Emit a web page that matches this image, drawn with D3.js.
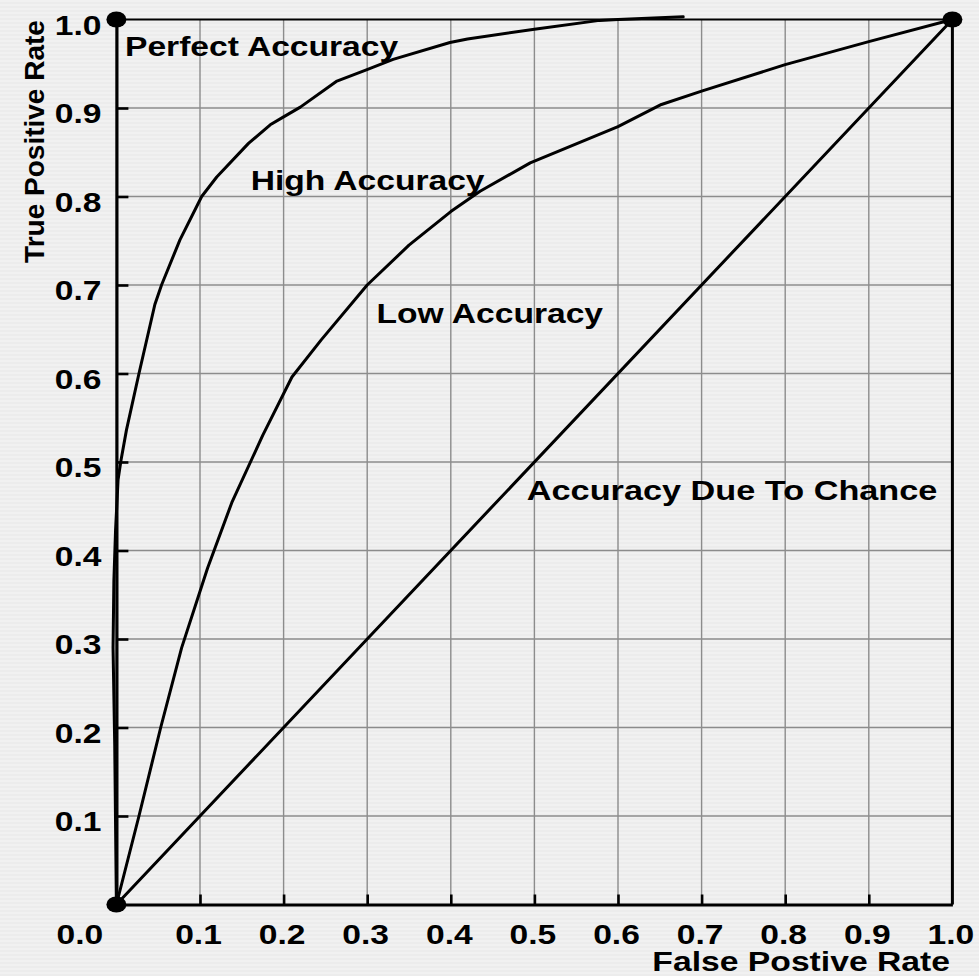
<!DOCTYPE html>
<html>
<head>
<meta charset="utf-8">
<script src="https://cdn.jsdelivr.net/npm/d3@7"></script>
<style>
  html, body { margin: 0; padding: 0; background: #efefef; }
  svg { display: block; }
  text { font-family: "Liberation Sans", Arial, Helvetica, sans-serif; font-weight: bold; fill: #000; }
</style>
</head>
<body>
<svg id="chart" width="979" height="976"></svg>
<script>
// Axis ticks
const tickValues = [0, 0.1, 0.2, 0.3, 0.4, 0.5, 0.6, 0.7, 0.8, 0.9, 1.0];
const tickLabels = ["0.0", "0.1", "0.2", "0.3", "0.4", "0.5", "0.6", "0.7", "0.8", "0.9", "1.0"];

// High accuracy ROC curve
const highFpr = [0, -0.002, -0.004, -0.003, -0.001, 0.002, 0.0055, 0.012, 0.027, 0.046, 0.054, 0.076, 0.102, 0.12, 0.158, 0.184, 0.2, 0.22, 0.263, 0.299, 0.331, 0.399, 0.42, 0.5, 0.578, 0.6, 0.678];
const highTpr = [0, 0.18, 0.29, 0.366, 0.423, 0.48, 0.502, 0.536, 0.6, 0.678, 0.7, 0.751, 0.8, 0.822, 0.86, 0.881, 0.89, 0.901, 0.93, 0.943, 0.955, 0.974, 0.978, 0.989, 0.999, 1.0, 1.003];

// Low accuracy ROC curve
const lowFpr = [0, 0.027, 0.053, 0.078, 0.109, 0.138, 0.175, 0.21, 0.245, 0.3, 0.35, 0.4, 0.435, 0.495, 0.6, 0.652, 0.7, 0.8, 0.9, 1.0];
const lowTpr = [0, 0.1, 0.2, 0.29, 0.38, 0.454, 0.53, 0.596, 0.638, 0.7, 0.745, 0.783, 0.806, 0.838, 0.879, 0.904, 0.919, 0.949, 0.975, 1.0];

// Chance diagonal
const chanceFpr = [0, 1];
const chanceTpr = [0, 1];

// Perfect classifier corners
const perfectFpr = [0, 0, 1];
const perfectTpr = [0, 1, 1];

// Curve annotations
const labelTexts = ["Perfect Accuracy", "High Accuracy", "Low Accuracy", "Accuracy Due To Chance"];
const labelFpr = [0.0103, 0.1606, 0.3112, 0.4909];
const labelTpr = [0.9588, 0.8073, 0.6574, 0.457];

const svg = d3.select("#chart");
const W = 979, H = 976;
const stretch = 1.2;

// background with faint horizontal scan texture
const defs = svg.append("defs");
const pat = defs.append("pattern").attr("id", "scan").attr("width", 8).attr("height", 4)
  .attr("patternUnits", "userSpaceOnUse");
pat.append("rect").attr("width", 8).attr("height", 4).attr("fill", "#f1f1f1");
pat.append("rect").attr("y", 2).attr("width", 8).attr("height", 2).attr("fill", "#ececec");
svg.append("rect").attr("width", W).attr("height", H).attr("fill", "url(#scan)");

const x = d3.scaleLinear().domain([0, 1]).range([116.4, 952.4]);
const y = d3.scaleLinear().domain([0, 1]).range([904.5, 19.5]);

// grid
const grid = svg.append("g");
grid.selectAll("line.v").data(tickValues.slice(1, -1)).join("line")
  .attr("x1", d => x(d)).attr("x2", d => x(d)).attr("y1", y(0)).attr("y2", y(1))
  .attr("stroke", "#8c8c8c").attr("stroke-width", 1.4);
grid.selectAll("line.h").data(tickValues.slice(1, -1)).join("line")
  .attr("x1", x(0)).attr("x2", x(1)).attr("y1", d => y(d)).attr("y2", d => y(d))
  .attr("stroke", "#8c8c8c").attr("stroke-width", 1.4);

// frame: top and right borders
svg.append("line").attr("x1", x(0)).attr("x2", x(1)).attr("y1", y(1)).attr("y2", y(1))
  .attr("stroke", "#000").attr("stroke-width", 2.2);
svg.append("line").attr("x1", x(1)).attr("x2", x(1)).attr("y1", y(1)).attr("y2", y(0))
  .attr("stroke", "#000").attr("stroke-width", 3);

// left axis with inward ticks
const yAxis = d3.axisLeft(y).tickValues(tickValues.slice(1)).tickSizeInner(-12).tickSizeOuter(0)
  .tickFormat((d, i) => tickLabels[i + 1]);
const gy = svg.append("g").attr("transform", `translate(${x(0)},0)`).call(yAxis);
gy.select(".domain").attr("stroke", "#000").attr("stroke-width", 3.2);
gy.selectAll(".tick line").attr("stroke", "#000").attr("stroke-width", 2.6);
gy.selectAll(".tick").filter(d => d === 1).select("line").remove();
gy.selectAll(".tick text")
  .attr("x", null).attr("dy", null).attr("y", null)
  .attr("text-anchor", "end")
  .attr("font-size", 28)
  .attr("transform", `translate(-15,14.5) scale(${stretch},1)`);

// bottom axis with inward ticks
const xAxis = d3.axisBottom(x).tickValues(tickValues).tickSizeInner(-10).tickSizeOuter(0)
  .tickFormat((d, i) => tickLabels[i]);
const gx = svg.append("g").attr("transform", `translate(0,${y(0)})`).call(xAxis);
gx.select(".domain").attr("stroke", "#000").attr("stroke-width", 3);
gx.selectAll(".tick line").attr("stroke", "#000").attr("stroke-width", 2.6);
gx.selectAll(".tick").filter(d => d === 0 || d === 1).select("line").remove();
gx.selectAll(".tick text")
  .attr("y", null).attr("dy", null)
  .attr("text-anchor", "middle")
  .attr("font-size", 28)
  .attr("transform", d => `translate(${d === 0 ? -37 : -2},39) scale(${stretch},1)`);
svg.selectAll(".domain").attr("fill", "none");
svg.selectAll(".tick text").attr("fill", "#000").attr("font-family", null);

// axis titles
svg.append("text")
  .attr("transform", `translate(43.5,141.5) rotate(-90)`)
  .attr("text-anchor", "middle").attr("font-size", 28)
  .text("True Positive Rate");
svg.append("text")
  .attr("transform", `translate(950,970.5) scale(${stretch * 1.04},1)`)
  .attr("text-anchor", "end").attr("font-size", 27)
  .text("False Postive Rate");

// curves
const line = d3.line().x(d => x(d[0])).y(d => y(d[1])).curve(d3.curveLinear);
const series = [
  d3.zip(highFpr, highTpr),
  d3.zip(lowFpr, lowTpr),
  d3.zip(chanceFpr, chanceTpr)
];
svg.selectAll("path.curve").data(series).join("path")
  .attr("class", "curve")
  .attr("d", line)
  .attr("fill", "none").attr("stroke", "#000").attr("stroke-width", 3)
  .attr("stroke-linejoin", "round").attr("stroke-linecap", "round");

// perfect classifier corner points
svg.selectAll("ellipse").data(d3.zip(perfectFpr, perfectTpr)).join("ellipse")
  .attr("cx", d => x(d[0])).attr("cy", d => y(d[1]))
  .attr("rx", 10).attr("ry", 8).attr("fill", "#000");

// annotations
svg.selectAll("text.note").data(labelTexts).join("text")
  .attr("class", "note")
  .attr("transform", (d, i) => `translate(${x(labelFpr[i])},${y(labelTpr[i])}) scale(${i === 3 ? stretch * 1.02 : stretch},1)`)
  .attr("font-size", 28)
  .text(d => d);
</script>
</body>
</html>
